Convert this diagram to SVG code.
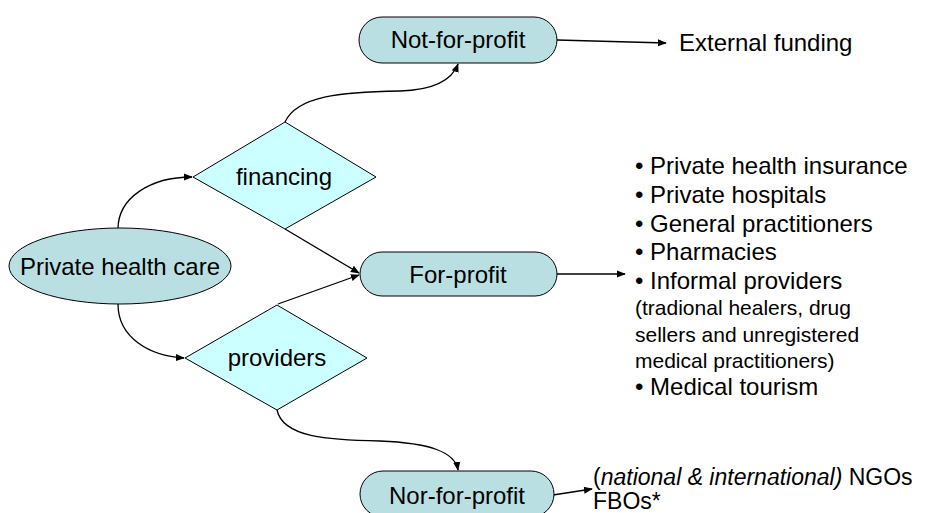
<svg xmlns="http://www.w3.org/2000/svg" width="946" height="513" viewBox="0 0 946 513">
  <style>
    .oval { fill: #badfe3; stroke: #000; stroke-width: 1; }
    .dia { fill: #ccffff; stroke: #000; stroke-width: 1; }
    .lbl { font-family: "Liberation Sans", Arial, sans-serif; font-size: 24px; fill: #000; }
    .mid { text-anchor: middle; }
    .sm { font-size: 21px; }
    .bt { font-size: 23px; }
    .edge { fill: none; stroke: #000; stroke-width: 1.3; marker-end: url(#arr); }
  </style>
  <defs>
    <marker id="arr" viewBox="0 0 10 10" refX="9" refY="5" markerWidth="9" markerHeight="9" markerUnits="userSpaceOnUse" orient="auto">
      <path d="M0,1 L10,5 L0,9 Z" fill="#000"/>
    </marker>
  </defs>

  <g id="edges">
    <path class="edge" d="M118,229 C118,198 150,177 192,177"/>
    <path class="edge" d="M118,304 C118,338 150,356 184,358"/>
    <path class="edge" d="M285,122 C297,96 340,92 400,91 C435,90 452,80 458,64"/>
    <path class="edge" d="M285,229 L359,273"/>
    <path class="edge" d="M278,304 L359,275"/>
    <path class="edge" d="M277,410 C283,438 330,440 380,441 C430,443 455,452 458,470"/>
    <path class="edge" d="M557,40 L666,43"/>
    <path class="edge" d="M557,274 L625,274"/>
    <path class="edge" d="M553,495 L592,489"/>
  </g>

  <g id="private-health-care">
    <ellipse class="oval" cx="120" cy="266" rx="111" ry="38"/>
    <text class="lbl mid" x="120" y="275">Private health care</text>
  </g>

  <g id="financing">
    <polygon class="dia" points="193,177 285,122 376,177 285,229"/>
    <text class="lbl mid" x="284" y="185">financing</text>
  </g>

  <g id="providers">
    <polygon class="dia" points="185,358 277,305 367,358 277,410"/>
    <text class="lbl mid" x="277" y="366">providers</text>
  </g>

  <g id="not-for-profit">
    <rect class="oval" x="359" y="17" width="198" height="46" rx="23"/>
    <text class="lbl mid" x="458" y="48">Not-for-profit</text>
  </g>

  <g id="for-profit">
    <rect class="oval" x="360" y="252" width="197" height="44" rx="22"/>
    <text class="lbl mid" x="458" y="283">For-profit</text>
  </g>

  <g id="nor-for-profit">
    <rect class="oval" x="360" y="471" width="194" height="46" rx="23"/>
    <text class="lbl mid" x="457" y="504">Nor-for-profit</text>
  </g>

  <g id="external-funding">
    <text class="lbl" x="679" y="51">External funding</text>
  </g>

  <g id="for-profit-list">
    <text class="lbl" x="635" y="174">• Private health insurance</text>
    <text class="lbl" x="635" y="203">• Private hospitals</text>
    <text class="lbl" x="635" y="232">• General practitioners</text>
    <text class="lbl" x="635" y="260">• Pharmacies</text>
    <text class="lbl" x="635" y="289">• Informal providers</text>
    <text class="lbl sm" x="635" y="315">(tradional healers, drug</text>
    <text class="lbl sm" x="635" y="342">sellers and unregistered</text>
    <text class="lbl sm" x="635" y="368">medical practitioners)</text>
    <text class="lbl" x="635" y="395">• Medical tourism</text>
  </g>

  <g id="not-for-profit-list">
    <text class="lbl bt" x="593" y="485">(<tspan font-style="italic">national &amp; international)</tspan> NGOs</text>
    <text class="lbl bt" x="593" y="509">FBOs*</text>
  </g>
</svg>
